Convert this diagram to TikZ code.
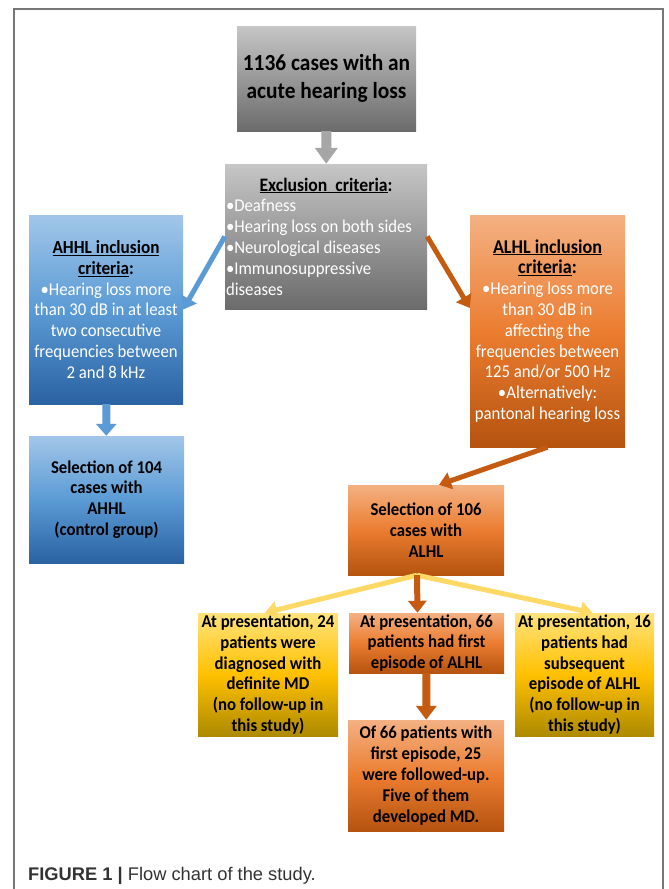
\documentclass[tikz,border=0pt]{standalone}
\usepackage{fontspec}
\setmainfont{Carlito}[FakeStretch=0.93]
\newfontfamily\capfont{Liberation Sans}
\usepackage{tikz}
\usetikzlibrary{shapes, arrows.meta, positioning}
\definecolor{grayhi}{HTML}{C6C6C6}
\definecolor{graylo}{HTML}{6B6B6B}
\definecolor{bluehi}{HTML}{A2C6E9}
\definecolor{bluemid}{HTML}{5B9BD5}
\definecolor{bluelo}{HTML}{2A62A2}
\definecolor{orangehi}{HTML}{F4B183}
\definecolor{orangemid}{HTML}{EB7D30}
\definecolor{orangelo}{HTML}{B5530F}
\definecolor{yellowhi}{HTML}{FFE37C}
\definecolor{yellowmid}{HTML}{FFC000}
\definecolor{yellowlo}{HTML}{AD8A00}
\definecolor{arrowgray}{HTML}{A6A6A6}
\definecolor{arrowblue}{HTML}{5B9BD5}
\definecolor{arroworange}{HTML}{C55A11}
\definecolor{arrowyellow}{HTML}{FFD966}
\definecolor{framecol}{HTML}{777777}
\definecolor{captext}{HTML}{333333}
\tikzstyle{block} = [rectangle, inner sep=0pt, align=center, font=\fontsize{18}{20.8}\selectfont]
\tikzstyle{graybox} = [block, top color=grayhi, bottom color=graylo]
\tikzstyle{bluebox} = [block, top color=bluehi, bottom color=bluelo, middle color=bluemid]
\tikzstyle{orangebox} = [block, top color=orangehi, bottom color=orangelo, middle color=orangemid]
\tikzstyle{yellowbox} = [block, top color=yellowhi, bottom color=yellowlo, middle color=yellowmid]
\tikzstyle{link} = [line width=5pt, -{Triangle[length=12pt, width=17pt]}]
\newcommand{\crit}[1]{\underline{#1}}
\newcommand{\hd}[1]{\textcolor{black}{\textbf{#1}}}

\begin{document}
\begin{tikzpicture}[x=1pt, y=-1pt, >=latex]
    \useasboundingbox (0,0) rectangle (669,889);
    \fill [white] (0,0) rectangle (669,889);
    \draw [framecol, line width=1.3pt] (14,889) -- (14,9) -- (663,9) -- (663,889);

    % top of the chart
    \node [graybox, minimum width=179pt, minimum height=105pt,
        font=\bfseries\fontsize{23}{28}\selectfont] (cases) at (326.5,78.5)
        {1136 cases with an\\acute hearing loss};
    \node [graybox, minimum width=202pt, minimum height=145pt, text width=200pt,
        inner xsep=1pt, align=flush left, text=white] (excl) at (326,236.5)
        {\makebox[200pt]{\hd{\fontsize{19}{20.8}\selectfont\crit{Exclusion\ \ criteria}:}}\\
         •Deafness\\•Hearing loss on both sides\\•Neurological diseases\\•Immunosuppressive\\diseases};

    % the two inclusion branches
    \node [bluebox, minimum width=154pt, minimum height=189pt, text=white] (ahhl) at (106,309.5)
        {\hd{\fontsize{18.5}{20.8}\selectfont\crit{AHHL inclusion}}\\\hd{\fontsize{18.5}{20.8}\selectfont\crit{criteria}:}\\
         •Hearing loss more\\than 30 dB in at least\\two consecutive\\frequencies between\\2 and 8 kHz};
    \node [orangebox, minimum width=155pt, minimum height=232pt, text=white] (alhl) at (547.5,331)
        {\hd{\fontsize{19.5}{20.8}\selectfont\crit{ALHL inclusion}}\\\hd{\fontsize{19.5}{22}\selectfont\crit{criteria}:}\\
         •Hearing loss more\\than 30 dB in\\affecting the\\frequencies between\\125 and/or 500 Hz\\•Alternatively:\\pantonal hearing loss};
    \node [bluebox, minimum width=155pt, minimum height=127pt, font=\bfseries\fontsize{18}{20.8}\selectfont] (sel104) at (106.5,499.5)
        {Selection of 104\\cases with\\AHHL\\(control group)};
    \node [orangebox, minimum width=156pt, minimum height=90pt, font=\bfseries\fontsize{18}{20.8}\selectfont] (sel106) at (426,530)
        {Selection of 106\\cases with\\ALHL};

    % outcome at presentation
    \node [yellowbox, minimum width=140pt, minimum height=123pt, font=\bfseries\fontsize{18}{20.8}\selectfont] (md24) at (268,674.5)
        {At presentation, 24\\patients were\\diagnosed with\\definite MD\\(no follow-up in\\this study)};
    \node [orangebox, minimum width=155pt, minimum height=60pt, font=\bfseries\fontsize{18}{20.8}\selectfont] (first66) at (426.5,643)
        {At presentation, 66\\patients had first\\episode of ALHL};
    \node [yellowbox, minimum width=139pt, minimum height=123pt, font=\bfseries\fontsize{18}{20.8}\selectfont] (sub16) at (584.5,674.5)
        {At presentation, 16\\patients had\\subsequent\\episode of ALHL\\(no follow-up in\\this study)};
    \node [orangebox, minimum width=156pt, minimum height=111pt, font=\bfseries\fontsize{18}{20.8}\selectfont] (follow) at (426,775.5)
        {Of 66 patients with\\first episode, 25\\were followed-up.\\Five of them\\developed MD.};

    \node [anchor=base west, inner sep=0pt, text=captext, font=\capfont\fontsize{18.3}{20}\selectfont] (caption) at (28,880)
        {\textbf{FIGURE 1 |} Flow chart of the study.};

    % arrows
    \draw [link, arrowgray, line width=10pt, -{Triangle[length=16pt, width=22pt]}] (cases) -- (excl);
    \draw [link, arrowblue] (excl.west) -- (ahhl.east);
    \draw [link, arroworange] (excl.east) -- ([yshift=23pt]alhl.west);
    \draw [link, arrowblue, line width=8pt, -{Triangle[length=12pt, width=20pt]}] (ahhl) -- (sel104);
    \draw [link, arroworange] (alhl.south) -- ([xshift=13pt]sel106.north);
    \draw [link, arrowyellow] ([xshift=-9pt]sel106.south) -- ([xshift=-3pt]md24.north);
    \draw [link, arrowyellow] ([xshift=-9pt]sel106.south) -- ([xshift=8pt]sub16.north);
    \draw [link, arroworange, line width=6pt, -{Triangle[length=12pt, width=18pt]}] ([xshift=-9pt]sel106.south) -- ([xshift=-9pt]first66.north);
    \draw [link, arroworange, line width=8pt, -{Triangle[length=14pt, width=20pt]}] (first66) -- (follow);
\end{tikzpicture}
\end{document}
